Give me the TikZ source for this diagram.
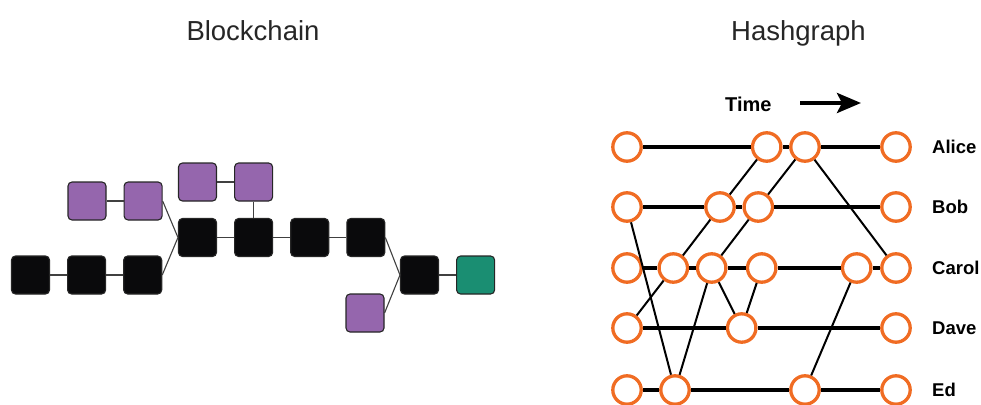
\documentclass[tikz,border=0pt]{standalone}
\usepackage{fontspec}
\setmainfont{Liberation Sans}
\usetikzlibrary{arrows.meta, positioning}
\definecolor{blockBlack}{RGB}{10,10,12}
\definecolor{forkPurple}{RGB}{149,102,173}
\definecolor{tipGreen}{RGB}{26,142,114}
\definecolor{eventOrange}{RGB}{240,108,35}

\begin{document}
\begin{tikzpicture}
	[
	x=1pt, y=-1pt,
	node distance=17pt,
        chainBlock/.style={
            rectangle,
            rounded corners=4pt,
            draw=black!85,
            line width=1.1pt,
            fill=blockBlack,
            minimum size=38pt,
            inner sep=0pt
        },
        forkBlock/.style={
            chainBlock,
            fill=forkPurple
        },
        tipBlock/.style={
            chainBlock,
            fill=tipGreen
        },
        chainLink/.style={
            draw=black!75,
            line width=1.1pt
        },
        eventNode/.style={
            circle,
            draw=eventOrange,
            line width=3.3pt,
            fill=white,
            minimum size=28.4pt,
            inner sep=0pt
        },
        syncLine/.style={
            line width=3.3pt
        },
        gossipLine/.style={
            line width=2pt
        },
        heading/.style={
            anchor=base,
            text=black!85,
            font=\fontsize{27.5}{30}\selectfont
        },
        member/.style={
            anchor=west,
            inner sep=0pt,
            font=\fontsize{18.5}{22}\selectfont\bfseries
        }
    ]
    \useasboundingbox (0,0) rectangle (981,404);

    % Blockchain
    \node(blockchainTitle) [heading] at (253,41) {Blockchain};

    \node(c1) [chainBlock] at (30.5,275) {};
    \node(c2) [chainBlock, right=of c1] {};
    \node(c3) [chainBlock, right=of c2] {};

    \node(p1) [forkBlock] at (87,201) {};
    \node(p2) [forkBlock, right=of p1] {};

    \node(b1) [chainBlock] at (197.5,237.5) {};
    \node(b2) [chainBlock, right=of b1] {};
    \node(b3) [chainBlock, right=of b2] {};
    \node(b4) [chainBlock, right=of b3] {};

    \node(q1) [forkBlock] at (197.5,182) {};
    \node(q2) [forkBlock, right=of q1] {};

    \node(r1) [chainBlock] at (419.5,275) {};
    \node(tip) [tipBlock, right=of r1] {};
    \node(p3) [forkBlock] at (365,313) {};

    \draw[chainLink] (c1)--(c2);
    \draw[chainLink] (c2)--(c3);
    \draw[chainLink] (p1)--(p2);
    \draw[chainLink] (q1)--(q2);
    \draw[chainLink] (p2.east)--(b1.west);
    \draw[chainLink] (c3.east)--(b1.west);
    \draw[chainLink] (b1)--(b2);
    \draw[chainLink] (b2)--(b3);
    \draw[chainLink] (b3)--(b4);
    \draw[chainLink] (q2)--(b2);
    \draw[chainLink] (b4.east)--(r1.west);
    \draw[chainLink] (p3.east)--(r1.west);
    \draw[chainLink] (r1)--(tip);

    % Hashgraph
    \node(hashgraphTitle) [heading] at (798.5,41) {Hashgraph};

    \node(time) [anchor=west, inner sep=0pt, font=\fontsize{20}{24}\selectfont\bfseries] at (725,104) {Time};
    \coordinate (timeStart) at (800,103);
    \coordinate (timeEnd) at (861,103);
    \draw[line width=4pt, -{Stealth[length=24pt,width=20pt,inset=5pt]}] (timeStart)--(timeEnd);

    \foreach \x [count=\i] in {627,766.7,805,896}
        \node(alice\i) [eventNode] at (\x,147) {};
    \foreach \x [count=\i] in {627,720,758.3,896}
        \node(bob\i) [eventNode] at (\x,207) {};
    \foreach \x [count=\i] in {627,673.3,711.7,761.7,856.7,896}
        \node(carol\i) [eventNode] at (\x,268) {};
    \foreach \x [count=\i] in {627,741.7,896}
        \node(dave\i) [eventNode] at (\x,328) {};
    \foreach \x [count=\i] in {627,675,805,896}
        \node(ed\i) [eventNode] at (\x,390) {};

    \node(aliceName) [member] at (932,147) {Alice};
    \node(bobName) [member] at (932,207) {Bob};
    \node(carolName) [member] at (932,268) {Carol};
    \node(daveName) [member] at (932,328) {Dave};
    \node(edName) [member] at (932,390) {Ed};

    \draw[syncLine] (alice1)--(alice2)--(alice3)--(alice4);
    \draw[syncLine] (bob1)--(bob2)--(bob3)--(bob4);
    \draw[syncLine] (carol1)--(carol2)--(carol3)--(carol4)--(carol5)--(carol6);
    \draw[syncLine] (dave1)--(dave2)--(dave3);
    \draw[syncLine] (ed1)--(ed2)--(ed3)--(ed4);

    \draw[gossipLine] (dave1)--(carol2)--(bob2)--(alice2);
    \draw[gossipLine] (ed2)--(carol3)--(bob3)--(alice3);
    \draw[gossipLine] (bob1)--(ed2);
    \draw[gossipLine] (carol3)--(dave2)--(carol4);
    \draw[gossipLine] (alice3)--(carol6);
    \draw[gossipLine] (ed3)--(carol5);
\end{tikzpicture}
\end{document}
